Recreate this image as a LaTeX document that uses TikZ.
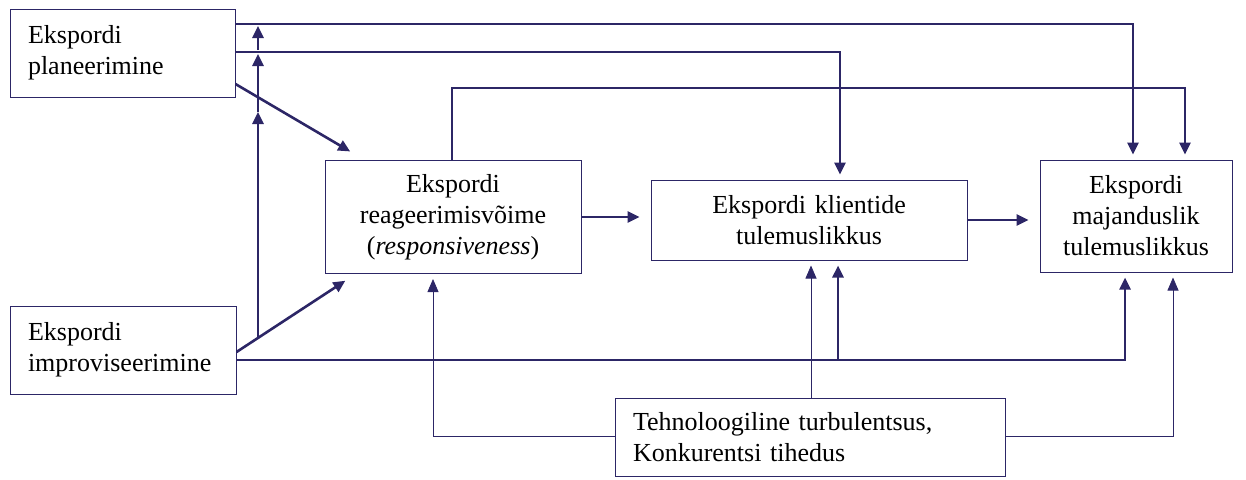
\documentclass[tikz,border=0pt]{standalone}
\usepackage{fontspec}
\setmainfont{Liberation Serif}
\usepackage{tikz}
\usetikzlibrary{arrows.meta}
\definecolor{navy}{RGB}{44,38,102}

\begin{document}
\begin{tikzpicture}[x=0.5pt, y=-0.5pt,
    box/.style = {draw=navy, line width=0.5pt, inner xsep=9pt, inner ysep=0pt,
                  font=\fontsize{13}{15.5}\selectfont},
    strong/.style = {draw=navy, line width=1.3pt, -{Triangle[length=6pt,width=5.5pt]}, shorten >=2.5pt},
    weak/.style = {draw=navy, line width=0.4pt, -{Triangle[length=6.5pt,width=5.5pt]}, shorten >=2.5pt}]
   \useasboundingbox (0,0) rectangle (1246,479);
   % boxes
   \node[box, minimum width=112.5pt, minimum height=44pt, text width=94.5pt, align=left] (plan) at (122.5,53) {Ekspordi\\planeerimine};
   \node[box, minimum width=113pt, minimum height=44pt, text width=95pt, align=left] (impr) at (123,350) {Ekspordi\\improviseerimine};
   \node[box, minimum width=128pt, minimum height=56.5pt, text width=110pt, align=center] (reag) at (453,217) {Ekspordi\\reageerimisvõime\\(\textit{responsiveness})};
   \node[box, minimum width=158pt, minimum height=40pt, text width=140pt, align=center] (klient) at (809,220) {Ekspordi klientide\\tulemuslikkus};
   \node[box, minimum width=96pt, minimum height=56pt, text width=78pt, align=center] (maj) at (1136,216) {Ekspordi\\majanduslik\\tulemuslikkus};
   \node[box, minimum width=195pt, minimum height=39pt, text width=177pt, align=left] (tehno) at (810,437) {Tehnoloogiline turbulentsus,\\Konkurentsi tihedus};
   % planeerimine
   \draw[strong] (plan.east |- 0,24) -| (maj.north -| 1133,0);
   \draw[strong] (plan.east |- 0,52) -| (klient.north -| 840,0);
   \draw[strong] (plan.east |- 0,84) -- ([xshift=15pt,yshift=3pt]reag.north west);
   % reageerimisvoime
   \coordinate (r1) at (452,88);
   \draw[strong] (reag.north -| r1) -- (r1) -| (maj.north -| 1185,0);
   \draw[strong, shorten >=5.5pt] (reag.east) -- (reag.east -| klient.west);
   \draw[strong, shorten >=5.5pt] (klient.east) -- (klient.east -| maj.west);
   % improviseerimine
   \draw[strong] (impr.east |- 0,352) -- ([xshift=12.5pt,yshift=-2pt]reag.south west);
   \coordinate (m0) at (258,337);
   \coordinate (m1) at (258,112);
   \coordinate (m2) at (258,54);
   \coordinate (m3) at (258,50);
   \coordinate (m4) at (258,26);
   \draw[strong, shorten >=0pt] (m0) -- (m1);
   \draw[strong, shorten >=0pt] (m1) -- (m2);
   \draw[strong, shorten >=0pt] (m3) -- (m4);
   \coordinate (i1) at (838,360);
   \draw[strong] (impr.east |- i1) -| (maj.south -| 1125,0);
   \draw[strong] (i1) -- (klient.south -| i1);
   % tehnoloogiline turbulentsus
   \draw[weak] (tehno.west |- 0,436) -| (reag.south -| 433,0);
   \draw[weak] (tehno.north -| 811,0) -- (klient.south -| 811,0);
   \draw[weak] (tehno.east |- 0,436) -| (maj.south -| 1173,0);
\end{tikzpicture}
\end{document}
